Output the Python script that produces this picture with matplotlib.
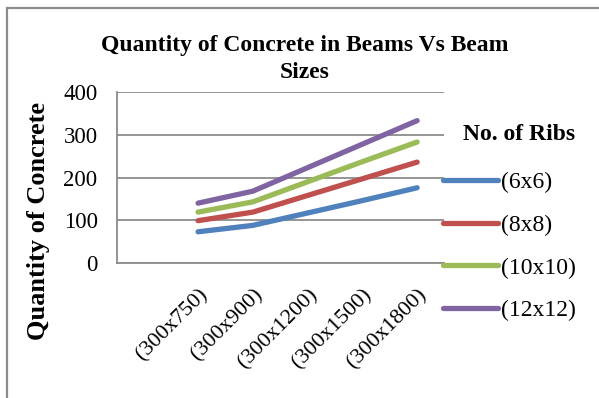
import matplotlib
matplotlib.use("Agg")
import matplotlib.pyplot as plt
from matplotlib.patches import Rectangle

plt.rcParams['font.family'] = ['Liberation Serif', 'DejaVu Serif']

# beam sizes (b x d, mm) and concrete quantity for each rib layout
beam_sizes = ["(300x750)", "(300x900)", "(300x1200)", "(300x1500)", "(300x1800)"]
ribs_6x6 = [73, 88, 117, 146, 176]
ribs_8x8 = [99, 119, 158, 197, 236]
ribs_10x10 = [119, 143, 190, 237, 283]
ribs_12x12 = [140, 168, 223, 278, 333]
series_names = ["(6x6)", "(8x8)", "(10x10)", "(12x12)"]

colors = ["#4F81BD", "#C0504D", "#9BBB59", "#8064A2"]

fig = plt.figure(figsize=(5.99, 3.98), dpi=100)
ax = fig.add_axes([117/599, 1-263/398, (444-117)/599, (263-92)/398])

# chart-area border
fig.patches.append(Rectangle((7/599, -0.05), 1.2, 1 - 8/398 + 0.05,
                             transform=fig.transFigure, fill=False,
                             edgecolor="#8c8c8c", linewidth=1.6))

x = list(range(len(beam_sizes)))
for vals, name, c in zip([ribs_6x6, ribs_8x8, ribs_10x10, ribs_12x12], series_names, colors):
    ax.plot(x, vals, color=c, linewidth=3.8, solid_capstyle="round", label=name)

ax.set_ylim(0, 400)
ax.set_yticks([0, 100, 200, 300, 400])
ax.set_xlim(-1.48, 4.49)
ax.set_xticks(x)
ax.set_xticklabels(beam_sizes, rotation=45, ha="right", rotation_mode="anchor")
ax.tick_params(axis="x", length=0, pad=16, labelsize=16)
ax.tick_params(axis="y", length=0, pad=14, labelsize=16.5)
ax.grid(axis="y", color="#8c8c8c", linewidth=1.3)
ax.set_axisbelow(True)
for side in ["top", "right"]:
    ax.spines[side].set_visible(False)
for side in ["left", "bottom"]:
    ax.spines[side].set_color("#8c8c8c")
    ax.spines[side].set_linewidth(1.3)

fig.text(305/599, 1-59/398, "Quantity of Concrete in Beams Vs Beam\nSizes",
         ha="center", va="center", fontsize=17, fontweight="bold", linespacing=1.4)
fig.text(39/599, 1-221/398, "Quantity of Concrete", rotation=90,
         ha="center", va="center", fontsize=19, fontweight="bold")

leg = ax.legend(loc="upper left", bbox_to_anchor=(422/599, 1-103/398),
                bbox_transform=fig.transFigure, frameon=False,
                title="No. of Ribs", title_fontproperties={"weight": "bold", "size": 17},
                alignment="right",
                fontsize=17, handlelength=2.3, handletextpad=0.13, labelspacing=0.9)
leg._legend_box.sep = 19

fig.savefig("out.png", dpi=100)
